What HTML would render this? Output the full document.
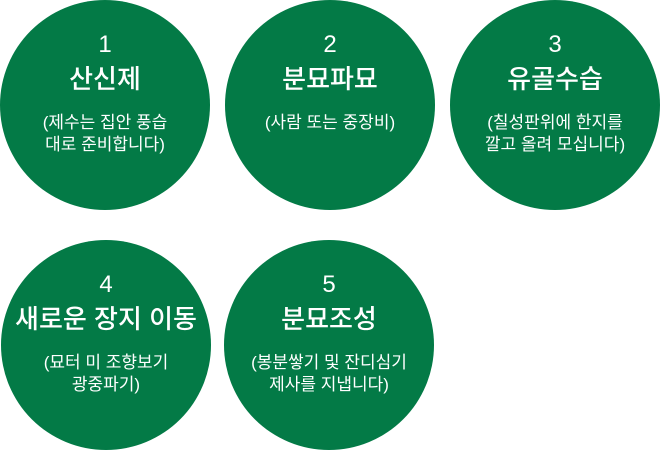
<!DOCTYPE html>
<html><head><meta charset="utf-8"><style>
html,body{margin:0;padding:0;background:#fff;}
body{width:660px;height:452px;position:relative;overflow:hidden;font-family:"Liberation Sans","Noto Sans CJK KR",sans-serif;color:#fff;}
.c{position:absolute;width:210px;height:210px;border-radius:50%;background:#037a46;text-align:center;}
.n{position:absolute;left:0;right:0;top:31px;font-size:24px;line-height:28px;}
.t{position:absolute;left:0;right:0;top:63px;font-size:26px;line-height:32px;font-weight:500;}
.d{position:absolute;left:0;right:0;top:112px;font-size:17px;line-height:22px;}
</style></head><body>
<div class="c" style="left:0;top:0"><div class="n">1</div><div class="t">산신제</div><div class="d">(제수는 집안 풍습<br>대로 준비합니다)</div></div>
<div class="c" style="left:225px;top:0"><div class="n">2</div><div class="t">분묘파묘</div><div class="d">(사람 또는 중장비)</div></div>
<div class="c" style="left:450px;top:0"><div class="n">3</div><div class="t">유골수습</div><div class="d">(칠성판위에 한지를<br>깔고 올려 모십니다)</div></div>
<div class="c" style="left:1px;top:240px"><div class="n">4</div><div class="t">새로운 장지 이동</div><div class="d">(묘터 미 조향보기<br>광중파기)</div></div>
<div class="c" style="left:224px;top:240px"><div class="n">5</div><div class="t">분묘조성</div><div class="d">(봉분쌓기 및 잔디심기<br>제사를 지냅니다)</div></div>
</body></html>
